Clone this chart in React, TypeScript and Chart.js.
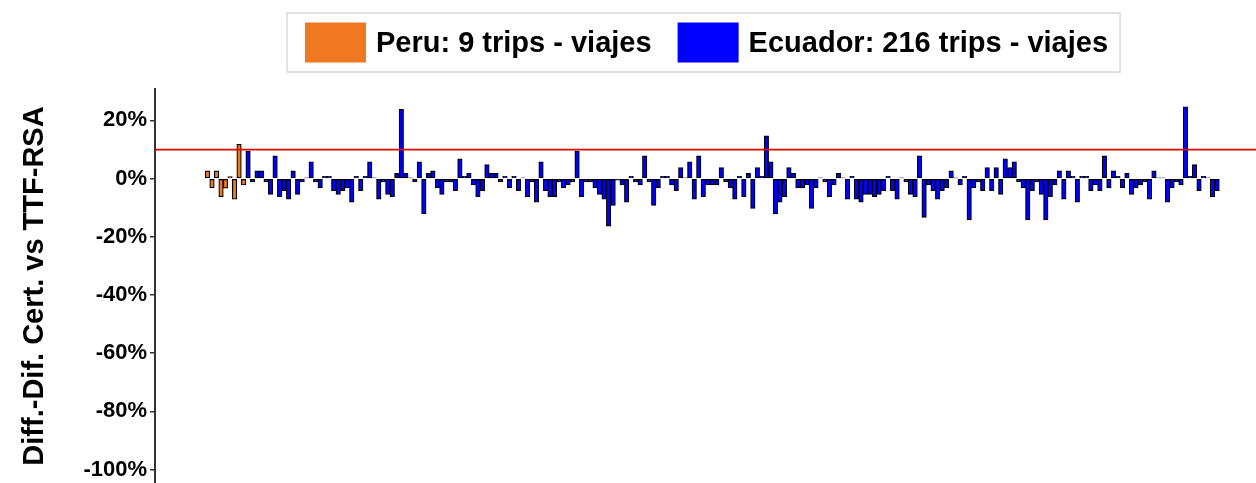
import React, { useEffect, useRef } from "react";
import { Chart, registerables } from "chart.js";

Chart.register(...registerables);

const peruLabel = "Peru: 9 trips - viajes";
const ecuadorLabel = "Ecuador: 216 trips - viajes";
const yTitle = "Diff.-Dif. Cert. vs TTF-RSA";

const peruValues = [2.7, -3.2, 2.7, -6.2, -3.3, 0.7, -7.1, 11.8, -2.2];

const ecuadorValues = [
  9.5, -1.1, 2.7, 2.7, -1.1, -5.4, 7.8, -6.2, -4.1, -7.1,
  2.7, -5.4, -1.1, 0.3, 5.8, -1.1, -3.2, 0.8, 0.8, -4.1,
  -5.4, -4.1, -3.2, -8.1, 0.8, -4.1, 0.8, 5.8, 0.3, -7.1,
  -1.1, -5.4, -6.2, 1.8, 23.8, 1.8, 0.3, -1.1, 5.8, -12.1,
  1.8, 2.7, -3.2, -5.4, -1.1, -1.1, -4.1, 6.8, 0.8, 1.8,
  -2.2, -6.2, -4.1, 4.8, 1.8, 1.8, -1.1, 0.8, -3.2, 0.8,
  -4.1, 0.3, -6.2, -1.1, -8.1, 5.8, -4.1, -6.2, -6.2, -1.1,
  -3.2, -2.2, -1.1, 9.5, -6.2, -1.1, -1.1, -3.2, -5.4, -7.1,
  -16.3, -9.2, -0.5, -2.2, -8.1, 0.8, -1.1, -2.2, 7.8, -1.1,
  -9.2, -3.2, 0.8, 0.8, -2.2, -4.1, 3.8, 0.3, 5.8, -7.1,
  7.8, -6.2, -2.2, -2.2, -2.2, 3.8, -1.1, -3.2, -7.1, 0.8,
  -6.2, 1.8, -10.2, 3.8, 0.8, 14.7, 5.8, -12.1, -8.1, -6.2,
  3.8, 1.8, -3.2, -3.2, -2.2, -10.2, -3.2, 0.3, -1.1, -6.2,
  -2.2, 1.8, 0.3, -7.1, 0.8, -7.1, -8.1, -5.4, -5.4, -6.2,
  -5.4, -4.1, 0.8, -4.1, -7.1, 0.3, -1.1, -5.4, -6.2, 7.8,
  -13.3, -2.2, -4.1, -7.1, -4.1, -3.2, 2.7, 0.3, -2.2, 0.8,
  -14.2, -3.2, -1.1, -4.1, 3.8, -4.1, 3.8, -5.4, 6.8, 3.8,
  5.8, -1.1, -3.2, -14.2, -4.1, -1.1, -5.4, -14.2, -6.2, -2.2,
  2.7, -7.1, 2.7, 0.8, -8.1, 0.8, 0.8, -4.1, -2.2, -4.1,
  7.8, -3.2, 2.7, 0.8, -3.2, 1.8, -5.4, -3.2, -2.2, -1.1,
  -7.1, 2.7, 0.3, 0.3, -8.1, -3.2, -1.1, -2.2, 24.7, 0.8,
  4.8, -4.1, 0.8, 0.3, -6.2, -4.1,
];

const yTickValues = [20, 0, -20, -40, -60, -80, -100];
const thresholdValue = 10;

const FONT = "'Liberation Sans', Arial, Helvetica, sans-serif";
const PERU_COLOR = "#F07820";
const ECUADOR_COLOR = "#0000FF";

export default function App() {
  const ref = useRef<HTMLCanvasElement>(null);

  useEffect(() => {
    if (!ref.current) return;
    const peruData = peruValues.map((v, i) => ({ x: i + 1, y: v }));
    const ecData = ecuadorValues.map((v, i) => ({ x: peruValues.length + i + 1, y: v }));

    const thresholdPlugin = {
      id: "threshold",
      afterDatasetsDraw(chart: any) {
        const { ctx, chartArea, scales } = chart;
        const y = scales.y.getPixelForValue(thresholdValue);
        ctx.save();
        ctx.strokeStyle = "#E60000";
        ctx.lineWidth = 1.7;
        ctx.beginPath();
        ctx.moveTo(chartArea.left, y);
        ctx.lineTo(chartArea.right, y);
        ctx.stroke();
        ctx.restore();
      },
    };

    const legendPlugin = {
      id: "boxLegend",
      afterDraw(chart: any) {
        const ctx = chart.ctx;
        ctx.save();
        ctx.font = `bold 29px ${FONT}`;
        const items = chart.data.datasets.map((d: any) => ({ label: d.label, color: d.legendColor }));
        const boxLeft = 287, boxTop = 13, boxH = 59;
        const padL = 18, swW = 61, swH = 40, gapTxt = 10, gapItem = 26, padR = 12;
        let x = boxLeft + padL;
        const midY = boxTop + boxH / 2;
        const draws: any[] = [];
        items.forEach((it: any, k: number) => {
          if (k > 0) x += gapItem;
          const sx = x;
          x += swW + gapTxt;
          const tx = x;
          x += ctx.measureText(it.label).width;
          draws.push({ sx, tx, it });
        });
        const boxRight = x + padR;
        ctx.fillStyle = "#ffffff";
        ctx.fillRect(boxLeft, boxTop, boxRight - boxLeft, boxH);
        ctx.strokeStyle = "#D9D9D9";
        ctx.lineWidth = 1.5;
        ctx.strokeRect(boxLeft, boxTop, boxRight - boxLeft, boxH);
        draws.forEach(({ sx, tx, it }) => {
          ctx.fillStyle = it.color;
          ctx.fillRect(sx, midY - swH / 2, swW, swH);
          ctx.fillStyle = "#000";
          ctx.textBaseline = "middle";
          ctx.textAlign = "left";
          ctx.fillText(it.label, tx, midY + 1);
        });
        ctx.restore();
      },
    };

    const common = {
      grouped: false,
      barPercentage: 1,
      categoryPercentage: 1,
      borderWidth: 1.2,
      borderColor: "#000000",
      borderSkipped: false,
    };

    const chart = new Chart(ref.current, {
      type: "bar",
      data: {
        datasets: [
          { label: peruLabel, data: peruData, backgroundColor: PERU_COLOR, legendColor: PERU_COLOR, ...common } as any,
          { label: ecuadorLabel, data: ecData, backgroundColor: ECUADOR_COLOR, legendColor: ECUADOR_COLOR, ...common } as any,
        ],
      },
      options: {
        responsive: false,
        animation: false,
        layout: { padding: { top: 89, left: 0, right: 0, bottom: 0 } },
        plugins: { legend: { display: false }, tooltip: { enabled: false } },
        scales: {
          x: { type: "linear", display: false, min: -10.65, max: 233.64, offset: false },
          y: {
            min: -104.6,
            max: 30.8,
            afterBuildTicks: (s: any) => {
              s.ticks = yTickValues.map((v) => ({ value: v }));
            },
            afterFit: (s: any) => {
              s.width = 155;
              s.paddingTop = 0;
              s.paddingBottom = 0;
            },
            ticks: {
              callback: (v: any) => v + "%",
              color: "#000",
              font: { family: FONT, size: 22, weight: "bold" },
              padding: 3,
            },
            grid: { drawOnChartArea: false, drawTicks: true, tickLength: 5, color: "#333", lineWidth: 1.5 },
            border: { display: true, color: "#333", width: 2 },
            title: {
              display: true,
              text: yTitle,
              color: "#000",
              font: { family: FONT, size: 29, weight: "bold", lineHeight: 1 },
              padding: { top: 20, bottom: 0 },
            },
          },
        },
      } as any,
      plugins: [thresholdPlugin, legendPlugin],
    });
    return () => chart.destroy();
  }, []);

  return (
    <div style={{ position: "absolute", left: 0, top: 0, width: 1256, height: 483, background: "#fff" }}>
      <canvas ref={ref} width={1256} height={483} style={{ display: "block" }} />
    </div>
  );
}
